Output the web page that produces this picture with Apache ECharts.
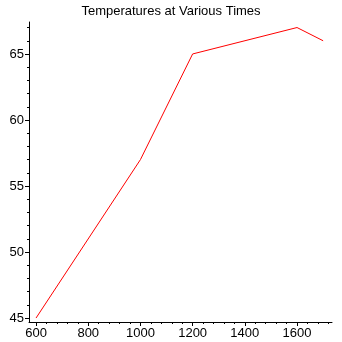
<!DOCTYPE html>
<html>
<head>
<meta charset="utf-8">
<script src="https://cdn.jsdelivr.net/npm/echarts@6/dist/echarts.min.js"></script>
<style>
html,body{margin:0;padding:0;background:#fff;}
#chart{width:342px;height:342px;}
</style>
</head>
<body>
<div id="chart"></div>
<script>
const titleText = 'Temperatures at Various Times';
const times = [600, 1000, 1200, 1600, 1700];
const temperatures = [45, 57, 65, 67, 66];
const xTickValues = [600, 800, 1000, 1200, 1400, 1600];
const yTickValues = [45, 50, 55, 60, 65];

const chart = echarts.init(document.getElementById('chart'), null, {renderer: 'canvas'});
const font = 'Liberation Sans, Arial, sans-serif';
chart.setOption({
  backgroundColor: '#ffffff',
  animation: false,
  title: {
    text: titleText,
    left: 'center',
    top: 0,
    textStyle: {fontFamily: font, fontSize: 13, fontWeight: 'normal', color: '#000'}
  },
  grid: {left: 29, right: 10, top: 22, bottom: 20, containLabel: false},
  xAxis: {
    type: 'value',
    min: 573,
    max: 1734,
    minInterval: 200,
    maxInterval: 200,
    axisLine: {show: true, lineStyle: {color: '#000', width: 1}},
    axisTick: {show: true, length: 4, customValues: xTickValues, lineStyle: {color: '#000'}},
    minorTick: {show: true, splitNumber: 5, length: 2, lineStyle: {color: '#000'}},
    axisLabel: {customValues: xTickValues, margin: 5, fontFamily: font, fontSize: 13, color: '#000',
      formatter: v => String(v)},
    splitLine: {show: false}
  },
  yAxis: {
    type: 'value',
    min: 44.7,
    max: 67.42,
    minInterval: 5,
    maxInterval: 5,
    axisLine: {show: true, onZero: false, lineStyle: {color: '#000', width: 1}},
    axisTick: {show: true, length: 4, customValues: yTickValues, lineStyle: {color: '#000'}},
    minorTick: {show: true, splitNumber: 5, length: 2, lineStyle: {color: '#000'}},
    axisLabel: {customValues: yTickValues, margin: 5, fontFamily: font, fontSize: 13, color: '#000',
      formatter: v => String(v)},
    splitLine: {show: false}
  },
  series: [{
    type: 'line',
    data: times.map((t, i) => [t, temperatures[i]]),
    showSymbol: false,
    symbol: 'none',
    lineStyle: {color: '#ff0000', width: 1},
    itemStyle: {color: '#ff0000'}
  }]
});
</script>
</body>
</html>
